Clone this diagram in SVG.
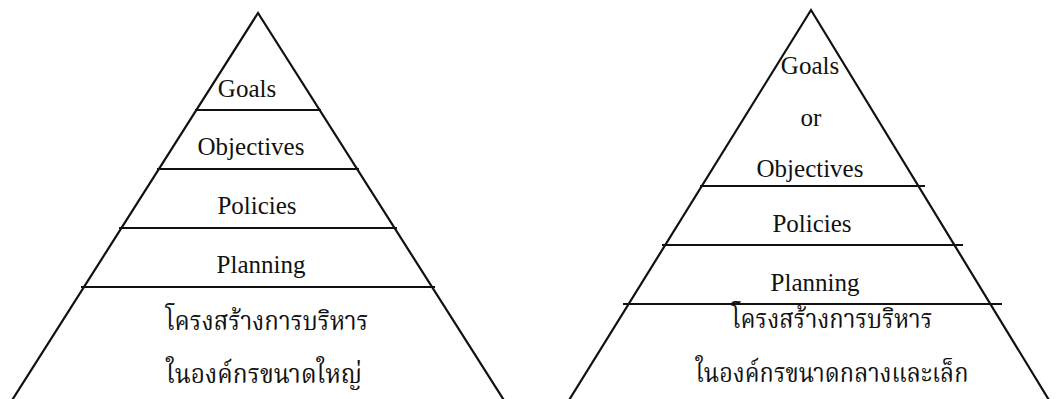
<svg xmlns="http://www.w3.org/2000/svg" width="1061" height="399" viewBox="0 0 1061 399">
<style>
.edge{fill:none;stroke:#111;stroke-width:2.2;stroke-linejoin:miter}
.sep{stroke:#111;stroke-width:2}
.en{font-family:"Liberation Serif","Times New Roman",serif;font-size:25px;fill:#111;text-anchor:middle}
.th{font-family:"Liberation Serif","Noto Serif Thai","Noto Sans Thai",serif;font-size:27px;fill:#111;text-anchor:middle}
</style>
<rect width="1061" height="399" fill="#fff"/>
<g id="pyramid-large">
<polyline class="edge" points="9,405 258,13 507,405"/>
<line class="sep" x1="195" y1="110" x2="321" y2="110"/>
<line class="sep" x1="157" y1="169" x2="359" y2="169"/>
<line class="sep" x1="119" y1="228" x2="397" y2="228"/>
<line class="sep" x1="81" y1="287" x2="435" y2="287"/>
<text class="en" x="247" y="97">Goals</text>
<text class="en" x="251" y="155">Objectives</text>
<text class="en" x="257" y="214">Policies</text>
<text class="en" x="261" y="273">Planning</text>
<text class="th" x="267" y="330" textLength="203" lengthAdjust="spacingAndGlyphs">โครงสร้างการบริหาร</text>
<text class="th" x="264" y="383" textLength="196" lengthAdjust="spacingAndGlyphs">ในองค์กรขนาดใหญ่</text>
</g>
<g id="pyramid-small">
<polyline class="edge" points="566,405 811,10 1052,405"/>
<line class="sep" x1="700" y1="186" x2="925" y2="186"/>
<line class="sep" x1="662" y1="245" x2="963" y2="245"/>
<line class="sep" x1="623" y1="304" x2="1002" y2="304"/>
<text class="en" x="810" y="74">Goals</text>
<text class="en" x="811" y="126">or</text>
<text class="en" x="810" y="177">Objectives</text>
<text class="en" x="812" y="232">Policies</text>
<text class="en" x="815" y="291">Planning</text>
<text class="th" x="832" y="328" textLength="201" lengthAdjust="spacingAndGlyphs">โครงสร้างการบริหาร</text>
<text class="th" x="832" y="382" textLength="273" lengthAdjust="spacingAndGlyphs">ในองค์กรขนาดกลางและเล็ก</text>
</g>
<g id="connectors"></g>
</svg>
